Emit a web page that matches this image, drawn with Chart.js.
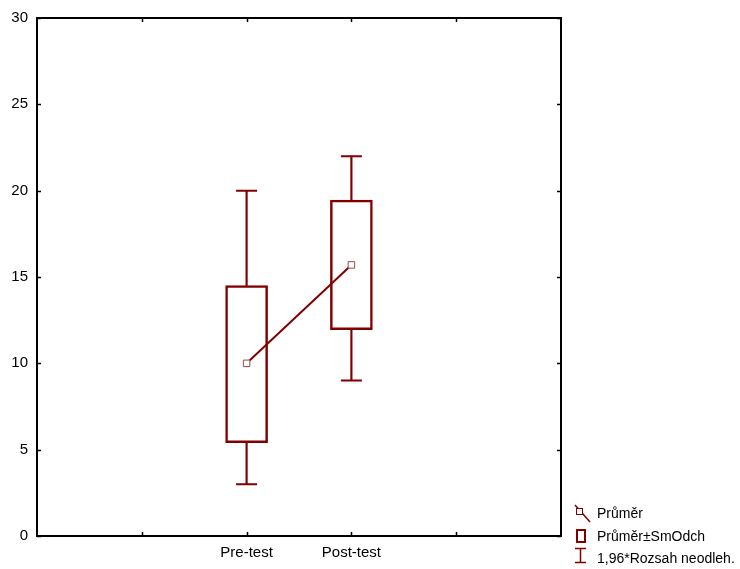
<!DOCTYPE html>
<html>
<head>
<meta charset="utf-8">
<script src="https://cdn.jsdelivr.net/npm/chart.js@4.4.1/dist/chart.umd.min.js"></script>
<style>
	html, body { margin: 0; padding: 0; background: #fff; }
	#wrap { width: 740px; height: 569px; position: relative; }
</style>
</head>
<body>
<div id="wrap"><canvas id="chart"></canvas></div>
<script>
// slot labels on the x axis (only the two groups are named)
const labels = ['', '', 'Pre-test', 'Post-test', '', ''];
const groupIdx = [2, 3];

const means = [10.0, 15.7];
const boxLow = [5.4, 11.95];
const boxHigh = [14.5, 19.45];
const whiskerLow = [3.0, 9.0];
const whiskerHigh = [20.0, 22.0];

const yTicks = [0, 5, 10, 15, 20, 25, 30];
const legendItems = ['Průměr', 'Průměr±SmOdch', '1,96*Rozsah neodleh.'];

const RED = '#800000';
const FONT = '"Liberation Sans", Arial, sans-serif';

function slotData(values) {
	const out = labels.map(() => null);
	groupIdx.forEach((idx, i) => { out[idx] = values[i]; });
	return out;
}

// frame, inside ticks and the legend
const framePlugin = {
	id: 'frame',
	afterDraw(chart) {
		const ctx = chart.ctx;
		const a = chart.chartArea;
		const xs = chart.scales.x;
		const ys = chart.scales.y;
		ctx.save();
		ctx.strokeStyle = '#000';
		ctx.lineWidth = 2;
		ctx.strokeRect(a.left, a.top, a.right - a.left, a.bottom - a.top);

		ctx.lineWidth = 1.5;
		ctx.beginPath();
		yTicks.forEach(v => {
			const y = Math.round(ys.getPixelForValue(v)) + 0.5;
			ctx.moveTo(a.left, y); ctx.lineTo(a.left + 4, y);
			ctx.moveTo(a.right, y); ctx.lineTo(a.right - 4, y);
		});
		for (let i = 1; i < labels.length - 1; i++) {
			const x = Math.round(xs.getPixelForValue(i)) + 0.5;
			ctx.moveTo(x, a.bottom); ctx.lineTo(x, a.bottom - 4);
			ctx.moveTo(x, a.top); ctx.lineTo(x, a.top + 4);
		}
		ctx.stroke();

		// legend
		const lx = 597;
		const rows = [514, 537, 559];
		ctx.strokeStyle = RED;
		ctx.lineWidth = 1.5;
		ctx.beginPath();
		ctx.moveTo(575, 505); ctx.lineTo(590, 522);
		ctx.stroke();
		ctx.fillStyle = '#fff';
		ctx.lineWidth = 1;
		ctx.fillRect(576.5, 508.5, 6, 6);
		ctx.strokeRect(576.5, 508.5, 6, 6);

		ctx.lineWidth = 2;
		ctx.strokeRect(577, 530, 8, 12);

		ctx.lineWidth = 1.5;
		ctx.beginPath();
		ctx.moveTo(580.5, 548); ctx.lineTo(580.5, 563);
		ctx.moveTo(575, 548.5); ctx.lineTo(586, 548.5);
		ctx.moveTo(575, 562.5); ctx.lineTo(586, 562.5);
		ctx.stroke();

		ctx.fillStyle = '#000';
		ctx.font = '14px ' + FONT;
		ctx.textBaseline = 'middle';
		ctx.textAlign = 'left';
		legendItems.forEach((t, i) => ctx.fillText(t, lx, rows[i]));
		ctx.restore();
	}
};

const ctx = document.getElementById('chart').getContext('2d');
new Chart(ctx, {
	type: 'bar',
	data: {
		labels: labels,
		datasets: [
			{
				type: 'line',
				label: 'Průměr',
				data: slotData(means),
				borderColor: RED,
				borderWidth: 2,
				pointStyle: 'rect',
				pointRadius: 4.6,
				pointBackgroundColor: '#fff',
				pointBorderColor: '#a04848',
				pointBorderWidth: 1,
				order: 0
			},
			{
				type: 'line',
				label: 'caps',
				data: slotData(whiskerHigh),
				showLine: false,
				pointStyle: 'line',
				pointRadius: 10.5,
				pointBorderColor: RED,
				pointBorderWidth: 2,
				order: 1
			},
			{
				type: 'line',
				label: 'caps low',
				data: slotData(whiskerLow),
				showLine: false,
				pointStyle: 'line',
				pointRadius: 10.5,
				pointBorderColor: RED,
				pointBorderWidth: 2,
				order: 1
			},
			{
				label: 'Průměr±SmOdch',
				data: slotData(boxLow.map((v, i) => [v, boxHigh[i]])),
				backgroundColor: '#fff',
				borderColor: RED,
				borderWidth: 2.5,
				borderSkipped: false,
				barThickness: 42,
				grouped: false,
				order: 2
			},
			{
				label: '1,96*Rozsah neodleh.',
				data: slotData(whiskerLow.map((v, i) => [v, whiskerHigh[i]])),
				backgroundColor: RED,
				borderWidth: 0,
				barThickness: 1.5,
				grouped: false,
				order: 3
			}
		]
	},
	options: {
		responsive: true,
		maintainAspectRatio: false,
		animation: false,
		events: [],
		layout: { padding: { left: 0, right: 179, top: 17, bottom: 0 } },
		plugins: {
			legend: { display: false },
			tooltip: { enabled: false }
		},
		scales: {
			x: {
				type: 'category',
				offset: false,
				grid: { display: false, drawTicks: false },
				border: { display: false },
				ticks: {
					autoSkip: false,
					maxRotation: 0,
					color: '#000',
					padding: 8,
					font: { family: FONT, size: 15 },
					callback: (v, i) => labels[i]
				},
				afterFit: s => { s.height = 33; }
			},
			y: {
				min: 0,
				max: 30,
				grid: { display: false, drawTicks: false },
				border: { display: false },
				ticks: {
					stepSize: 5,
					color: '#000',
					padding: 9,
					font: { family: FONT, size: 15 }
				},
				afterFit: s => { s.width = 37; }
			}
		}
	},
	plugins: [framePlugin]
});
</script>
</body>
</html>
